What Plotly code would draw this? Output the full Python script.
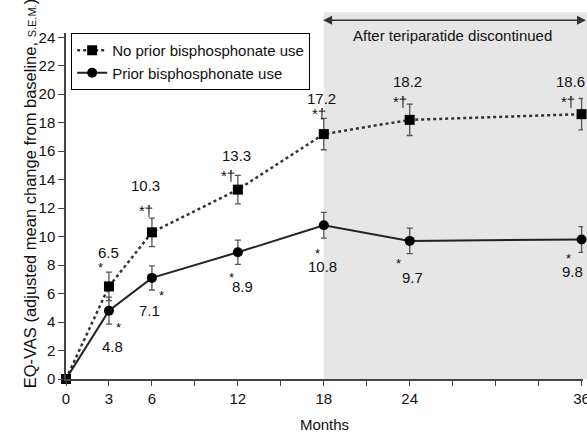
import plotly.graph_objects as go

months = [0, 3, 6, 12, 18, 24, 36]
no_prior = [0, 6.5, 10.3, 13.3, 17.2, 18.2, 18.6]
no_prior_err = [0, 1.0, 1.0, 1.0, 1.1, 1.1, 1.1]
prior = [0, 4.8, 7.1, 8.9, 10.8, 9.7, 9.8]
prior_err = [0, 0.95, 0.85, 0.85, 0.9, 0.9, 0.9]
no_prior_sig = ["", "*", "*†", "*†", "*†", "*†", "*†"]
prior_sig = ["", "*", "*", "*", "*", "*", "*"]
x_tickvals = [0, 3, 6, 9, 12, 15, 18, 21, 24, 27, 30, 33, 36]
x_ticktext = ["0", "3", "6", "", "12", "", "18", "", "24", "", "", "", "36"]
y_tickvals = list(range(0, 25, 2))
phase_start = 18
phase_end = 36.4
phase_label = "After teriparatide discontinued"

# label offsets (pixels) relative to each point: (dx, dy up)
np_num_off = [None, (0, 34), (-6, 47), (-1, 34), (-2, 36), (-2, 38), (-11, 33)]
np_sig_off = [None, (-8, 19), (-6, 22), (-10, 14), (-5, 21), (-10, 18), (-14, 13)]
p_num_off = [None, (4, -36), (-2, -33), (5, -34), (-1, -41), (3, -37), (-9, -32)]
p_sig_off = [None, (10, -17), (10, -18), (-6, -25), (-6, -28), (-11, -23), (-13, -19)]

FONT = "Liberation Sans, Arial, sans-serif"
XMIN, XMAX = 0, 36.1
YMIN, YMAX = 0, 24.3
W, H = 587, 433
ML, MR, MT, MB = 66, 4, 33, 54
PLOT_W = W - ML - MR

fig = go.Figure()

# shaded region
fig.add_shape(type="rect", xref="paper", yref="paper",
              x0=(phase_start - XMIN) / (XMAX - XMIN), x1=1.02, y0=0, y1=1.06,
              fillcolor="#e6e6e6", line=dict(width=0), layer="below")

fig.add_trace(go.Scatter(
    x=months, y=no_prior, name="No prior bisphosphonate use",
    mode="lines+markers",
    line=dict(color="#333333", width=2.5, dash="dot"),
    marker=dict(symbol="square", size=10, color="black"),
    error_y=dict(type="data", array=no_prior_err, color="#555555", thickness=1.3, width=3),
    cliponaxis=False))
fig.add_trace(go.Scatter(
    x=months, y=prior, name="Prior bisphosphonate use",
    mode="lines+markers",
    line=dict(color="#222222", width=2),
    marker=dict(symbol="circle", size=10, color="black"),
    error_y=dict(type="data", array=prior_err, color="#555555", thickness=1.3, width=3),
    cliponaxis=False))

ann = []
for i, m in enumerate(months):
    if np_num_off[i] is not None:
        ann.append(dict(x=m, y=no_prior[i], text=f"{no_prior[i]:.1f}", showarrow=False,
                        xshift=np_num_off[i][0], yshift=np_num_off[i][1],
                        font=dict(size=15, color="#111")))
        ann.append(dict(x=m, y=no_prior[i], text=no_prior_sig[i], showarrow=False,
                        xshift=np_sig_off[i][0], yshift=np_sig_off[i][1],
                        font=dict(size=15 if "†" in no_prior_sig[i] else 13, color="#111")))
    if p_num_off[i] is not None:
        ann.append(dict(x=m, y=prior[i], text=f"{prior[i]:.1f}", showarrow=False,
                        xshift=p_num_off[i][0], yshift=p_num_off[i][1],
                        font=dict(size=15, color="#111")))
        ann.append(dict(x=m, y=prior[i], text=prior_sig[i], showarrow=False,
                        xshift=p_sig_off[i][0], yshift=p_sig_off[i][1],
                        font=dict(size=13, color="#111")))

# double-headed arrow (paper coordinates so it is drawn above the axis range)
head_x = (phase_end - XMIN) / (XMAX - XMIN)
tail_x = (phase_start - 0.15 - XMIN) / (XMAX - XMIN)
arrow_y = (25.2 - YMIN) / (YMAX - YMIN)
ann.append(dict(x=head_x, y=arrow_y, ax=(tail_x - head_x) * PLOT_W, ay=0,
                xref="paper", yref="paper", text="", showarrow=True, arrowhead=2,
                arrowside="end+start", arrowwidth=1.5, arrowsize=1.2, arrowcolor="#333"))
ann.append(dict(x=27, y=24.1, xref="x", yref="y", text=phase_label, showarrow=False,
                font=dict(size=15, color="#111")))
# y title
ann.append(dict(x=-0.092, y=0.535, xref="paper", yref="paper", textangle=-90,
                text="EQ-VAS (adjusted mean change from baseline, <span style='font-size:11px'>S.E.M.</span>)",
                showarrow=False, font=dict(size=16.5, color="#111")))

fig.update_layout(
    width=W, height=H,
    margin=dict(l=ML, r=MR, t=MT, b=MB, autoexpand=False),
    paper_bgcolor="white", plot_bgcolor="rgba(0,0,0,0)",
    font=dict(family=FONT, size=15, color="#111"),
    showlegend=True,
    legend=dict(x=0.01, y=1.0, xanchor="left", yanchor="top",
                bgcolor="white", bordercolor="black", borderwidth=1,
                font=dict(size=15), tracegroupgap=0),
    annotations=ann,
    xaxis=dict(range=[XMIN, XMAX], tickvals=x_tickvals, ticktext=x_ticktext,
               showgrid=False, zeroline=False, showline=True, linecolor="#444",
               linewidth=1.5, ticks="outside", ticklen=5, tickcolor="#444",
               ticklabeloverflow="allow", automargin=False,
               tickfont=dict(size=15), title=dict(text="Months", font=dict(size=15), standoff=17)),
    yaxis=dict(range=[YMIN, YMAX], tickvals=y_tickvals, showgrid=False, zeroline=False,
               showline=True, linecolor="#444", linewidth=1.5, ticks="outside",
               ticklen=6, tickcolor="#444", tickfont=dict(size=15), automargin=False),
)

fig.write_html("out.html", config={"displayModeBar": False},
               post_script="document.body.style.margin='0';document.body.style.overflow='hidden';")
